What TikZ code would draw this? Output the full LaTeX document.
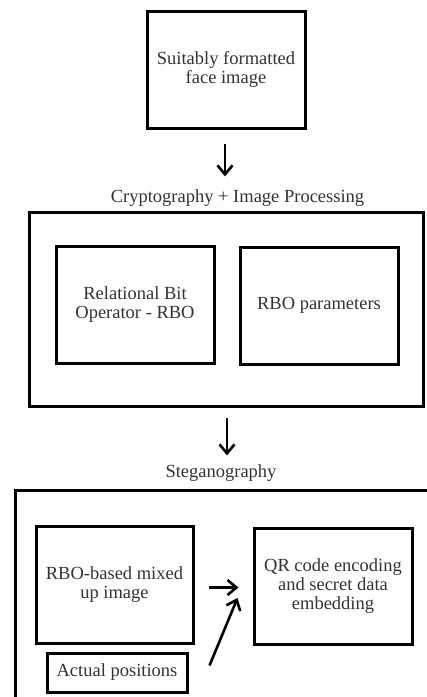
\documentclass[tikz,border=0pt]{standalone}
\usepackage{fontspec}
\setmainfont{Liberation Serif}
\usetikzlibrary{arrows.meta,calc}

\tikzset{
  box/.style={draw=black, line width=3pt, rectangle, align=center,
    inner sep=0pt, text=black!80},
  stage/.style={draw=black, line width=3pt},
  caption/.style={inner sep=0pt, text=black!80},
  flow/.style={line width=2.6pt, -{Straight Barb[length=9pt,width=15pt,line width=2.6pt]}},
}

\begin{document}
\begin{tikzpicture}[x=1pt, y=-1pt,
  every node/.append style={font=\fontsize{18.5}{19}\selectfont}]
\useasboundingbox (0,0) rectangle (427,697);
\clip (0,0) rectangle (427,697);

% input
\node[box, minimum width=158pt, minimum height=117pt] (face) at (226,69.5)
  {Suitably formatted\\face image};

% cryptography and image processing stage
\node[caption] (cryptlbl) at (237.5,198) {Cryptography + Image Processing};
\draw[stage] (29,212) rectangle (423,406);
\coordinate (cryptbot) at (226,406);
\node[box, minimum width=158pt, minimum height=117pt] (rbo) at (135,304.5)
  {Relational Bit\\Operator - RBO};
\node[box, minimum width=158pt, minimum height=117pt] (params) at (319,305.5)
  {RBO parameters};

% steganography stage
\node[caption] (steglbl) at (221,473) {Steganography};
\draw[stage] (15,490) rectangle (445,720);
\node[box, minimum width=157pt, minimum height=117pt] (mixed) at (114.5,584.5)
  {RBO-based mixed\\up image};
\node[box, minimum width=158pt, minimum height=116pt] (qr) at (333,586)
  {QR code encoding\\and secret data\\embedding};
\node[box, minimum width=140pt, minimum height=39pt] (pos) at (117,672.5)
  {Actual positions};

% connectors
\draw[flow] ($(face.south)+(-1,14)$) -- ($(cryptlbl.north -| face.south)+(-1,-13)$);
\draw[flow] ($(cryptbot)+(1,12)$) -- ($(steglbl.north -| cryptbot)+(1,-9)$);
\draw[flow] ($(mixed.east)+(14,3)$) -- ($(mixed.east -| qr.west)+(-14,3)$);
\draw[flow] ($(pos.east)+(21,-7)$) -- ($(qr.west)+(-15,12)$);
\end{tikzpicture}
\end{document}
